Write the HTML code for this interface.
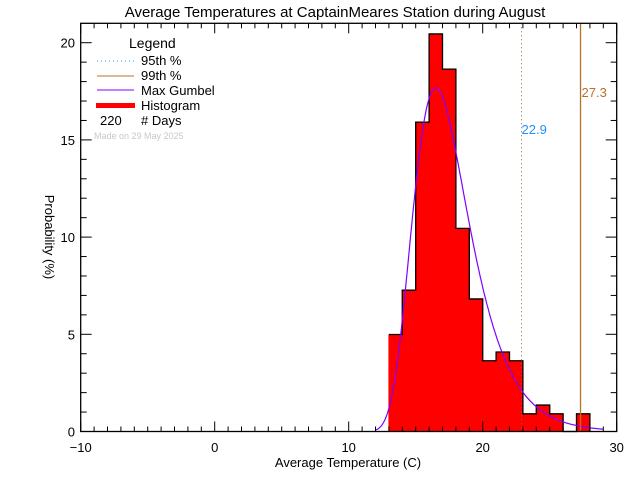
<!DOCTYPE html>
<html><head><meta charset="utf-8"><style>
body{margin:0;background:#fff}
svg{display:block;font-family:"Liberation Sans",sans-serif}
</style></head><body>
<svg id="chart" width="640" height="480" viewBox="0 0 640 480">
<g id="marks"></g>
<g id="axes"></g>
<text x="335" y="17" text-anchor="middle" font-size="15" font-family="Liberation Sans, sans-serif">Average Temperatures at CaptainMeares Station during August</text>
<text x="348" y="467" text-anchor="middle" font-size="13" font-family="Liberation Sans, sans-serif">Average Temperature (C)</text>
<text transform="translate(45,237) rotate(90)" text-anchor="middle" font-size="13" font-family="Liberation Sans, sans-serif">Probability   (%)</text>
<g font-family="Liberation Sans, sans-serif" font-size="13">
<text x="129" y="48" font-size="14">Legend</text>
<line x1="97" x2="134" y1="61" y2="61" stroke="#1e90ff" stroke-dasharray="1,3"/>
<text x="141" y="65">95th %</text>
<line x1="97" x2="134" y1="76" y2="76" stroke="#b8702a"/>
<text x="141" y="80">99th %</text>
<line x1="97" x2="134" y1="90" y2="90" stroke="#8000ff"/>
<text x="141" y="95">Max Gumbel</text>
<rect x="96" y="103" width="39" height="5" fill="#ff0000"/>
<text x="141" y="110">Histogram</text>
<text x="100" y="125">220</text>
<text x="141" y="125"># Days</text>
<text x="94" y="139" font-size="9" fill="#c8c8c8">Made on 29 May 2025</text>
</g>
</svg>
<script>
const binStarts=[13,14,15,16,17,18,19,20,21,22,23,24,25,26,27];
const binValues=[4.99,7.27,15.91,20.45,18.64,10.45,6.82,3.64,4.09,3.64,0.91,1.36,0.91,0,0.91];
const gumbelMu=[16.5];
const gumbelBeta=[2.08];
const p95=[22.9];
const p99=[27.3];
const xTicks=[-10,0,10,20,30];
const yTicks=[0,5,10,15,20];
const nDays=[220];

const X0=80.7,X1=616.7,Y0=431.5,YT=23.3;
const xs=v=>X0+(v+10)*(X1-X0)/40;
const ys=v=>Y0-v*19.44;
const NS="http://www.w3.org/2000/svg";
const marks=document.getElementById('marks'),axes=document.getElementById('axes');
function mk(tag,attrs,parent){const e=document.createElementNS(NS,tag);for(const k in attrs)e.setAttribute(k,attrs[k]);parent.appendChild(e);return e;}

binStarts.forEach((b,i)=>{
  const r=mk('rect',{x:xs(b)-0.5,y:ys(binValues[i]),width:xs(b+1)-xs(b)+1,height:Y0-ys(binValues[i]),fill:'#ff0000'},marks);
  
  
});
let d='';
binStarts.forEach((b,i)=>{const y=ys(binValues[i]);d+=(i?'L':'M')+xs(b)+','+y+'L'+xs(b+1)+','+y;});
d+='L'+xs(binStarts[binStarts.length-1]+1)+','+Y0;
const ol=mk('path',{d:d,fill:'none',stroke:'#000','stroke-width':1.3},marks);


let g='';
for(let t=12;t<=29.01;t+=0.1){const z=(t-gumbelMu[0])/gumbelBeta[0];const f=100/gumbelBeta[0]*Math.exp(-(z+Math.exp(-z)));g+=(g?'L':'M')+xs(t).toFixed(1)+','+ys(f).toFixed(1);}
const gl=mk('path',{d:g,fill:'none',stroke:'#8000ff','stroke-width':1.2},marks);


const l95=mk('line',{x1:xs(p95[0]),x2:xs(p95[0]),y1:YT,y2:Y0,stroke:'#a0602a','stroke-dasharray':'1,3'},marks);


const l99=mk('line',{x1:xs(p99[0]),x2:xs(p99[0]),y1:YT,y2:Y0,stroke:'#b8702a','stroke-width':1.3},marks);


const t95=mk('text',{x:xs(p95[0]),y:134,fill:'#1e90ff','font-size':13},marks);t95.textContent=p95[0].toFixed(1);


const t99=mk('text',{x:xs(p99[0])+1,y:97,fill:'#b8702a','font-size':13},marks);t99.textContent=p99[0].toFixed(1);



const fr=mk('rect',{x:X0,y:YT,width:X1-X0,height:Y0-YT,fill:'none',stroke:'#000','stroke-width':1.3},axes);


for(let v=-10;v<=30;v++){const maj=v%10===0,L=maj?10:5;
  mk('line',{x1:xs(v),x2:xs(v),y1:Y0,y2:Y0-L,stroke:'#000'},axes);
  mk('line',{x1:xs(v),x2:xs(v),y1:YT,y2:YT+L,stroke:'#000'},axes);}
xTicks.forEach(v=>{const t=mk('text',{x:xs(v),y:452,'text-anchor':'middle','font-size':13},axes);t.textContent=v<0?'\u2212'+(-v):v;
  
  });
for(let v=0;v<=20;v++){const maj=v%5===0,L=maj?11:6;
  mk('line',{x1:X0,x2:X0+L,y1:ys(v),y2:ys(v),stroke:'#000'},axes);
  mk('line',{x1:X1,x2:X1-L,y1:ys(v),y2:ys(v),stroke:'#000'},axes);}
yTicks.forEach(v=>{const t=mk('text',{x:75,y:ys(v)+5,'text-anchor':'end','font-size':13},axes);t.textContent=v;
  
  });
</script>
</body></html>
